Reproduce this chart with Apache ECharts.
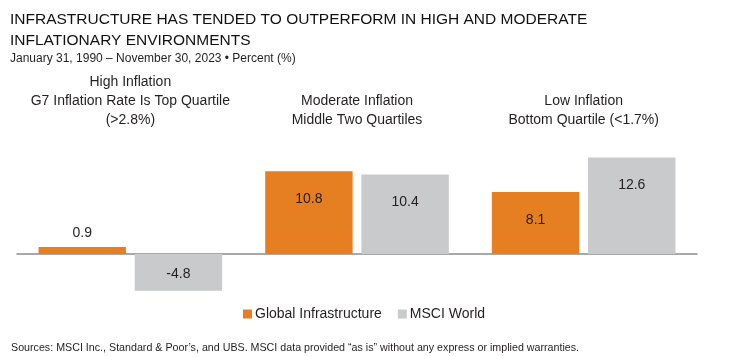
<!DOCTYPE html>
<html><head><meta charset="utf-8">
<script src="https://cdn.jsdelivr.net/npm/echarts@6/dist/echarts.min.js"></script>
<style>html,body{margin:0;padding:0;background:#fff}#c{width:752px;height:357px}</style>
</head><body><div id="c"></div>
<script>
const categories = ['High', 'Moderate', 'Low'];
const groupHeaders = ['High Inflation\nG7 Inflation Rate Is Top Quartile\n(>2.8%)', 'Moderate Inflation\nMiddle Two Quartiles', 'Low Inflation\nBottom Quartile (<1.7%)'];
const infraValues = [0.9, 10.8, 8.1];
const msciValues = [-4.8, 10.4, 12.6];
const seriesNames = ['Global Infrastructure', 'MSCI World'];

const FONT = '"Liberation Sans", sans-serif';
const chart = echarts.init(document.getElementById('c'), null, {renderer: 'canvas'});

function labelFor(v) {
  if (v < 0) return {position: 'insideTop', distance: 13};
  if (v < 3) return {position: 'top', distance: 7};
  return {position: 'insideTop', distance: 21};
}
function mk(vals) {
  return vals.map(v => ({value: v, label: labelFor(v)}));
}

chart.setOption({
  animation: false,
  textStyle: {fontFamily: FONT},
  title: [
    {text: 'INFRASTRUCTURE HAS TENDED TO OUTPERFORM IN HIGH AND MODERATE\nINFLATIONARY ENVIRONMENTS', left: 5, top: 4,
     textStyle: {fontFamily: FONT, fontSize: 15.5, fontWeight: 'normal', color: '#111', lineHeight: 21}},
    {text: 'January 31, 1990 – November 30, 2023 • Percent (%)', left: 5, top: 48,
     textStyle: {fontFamily: FONT, fontSize: 12, fontWeight: 'normal', color: '#231f20'}},
    {text: 'Sources: MSCI Inc., Standard & Poor’s, and UBS. MSCI data provided “as is” without any express or implied warranties.', left: 6, top: 338,
     textStyle: {fontFamily: FONT, fontSize: 10.7, fontWeight: 'normal', color: '#231f20'}}
  ],
  legend: {
    data: seriesNames, left: 238, top: 302, itemWidth: 9, itemHeight: 9, itemGap: 16,
    icon: 'rect', textStyle: {fontFamily: FONT, fontSize: 14, color: '#231f20', padding: [0, 0, 0, -2]}
  },
  grid: {left: 17, right: 55, top: 154.5, height: 137.7},
  xAxis: [
    {type: 'category', data: categories, axisLine: {lineStyle: {color: '#8c8c8c', width: 1.5}, onZero: true},
     axisTick: {show: false}, axisLabel: {show: false}},
    {type: 'category', data: groupHeaders, position: 'top', axisLine: {show: false}, axisTick: {show: false},
     axisLabel: {interval: 0, margin: 25, fontFamily: FONT, fontSize: 14, color: '#231f20', lineHeight: 19}}
  ],
  yAxis: {type: 'value', min: -5, max: 13, interval: 1, show: false, splitLine: {show: false}},
  series: [
    {name: seriesNames[0], type: 'bar', data: mk(infraValues), barGap: '10%', barCategoryGap: '19%',
     itemStyle: {color: '#e67e22'},
     label: {show: true, fontFamily: FONT, fontSize: 14, color: '#231f20', formatter: p => p.value.toFixed(1)}},
    {name: seriesNames[1], type: 'bar', data: mk(msciValues),
     itemStyle: {color: '#c9cacc'},
     label: {show: true, fontFamily: FONT, fontSize: 14, color: '#231f20', formatter: p => p.value.toFixed(1)}}
  ]
});
</script></body></html>
